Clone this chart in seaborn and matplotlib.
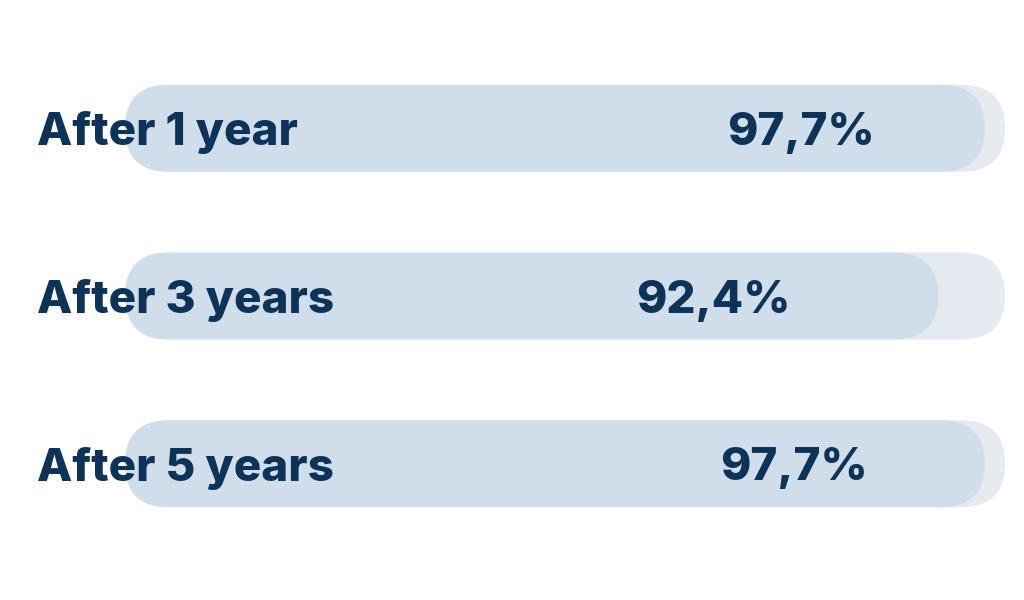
import matplotlib.pyplot as plt
import seaborn as sns
import pandas as pd
from matplotlib.patches import FancyBboxPatch

# Data
periods = ['After 1 year', 'After 3 years', 'After 5 years']
rates = [97.7, 92.4, 97.7]
rate_labels = ['97,7%', '92,4%', '97,7%']
track_max = [100, 100, 100]

df = pd.DataFrame({'period': periods, 'rate': rates, 'track': track_max})

# Colours
navy = '#0E3358'
bar_col = '#D0DEEB'
track_col = '#E5EAF1'

# Layout (pixel geometry of the reference)
W, H = 1024, 600
x0_px, x100_px = 125, 1005
px_per_x = (x100_px - x0_px) / 100
row_px = 167.75
first_row_px = 128.25
bar_h = 87 / row_px
pct_x = [76.8, 66.9, 76.0]   # centre of the percentage label, in data units

fig = plt.figure(figsize=(W / 100, H / 100), dpi=100)
ax = fig.add_axes([0, 0, 1, 1])

sns.barplot(data=df, x='track', y='period', orient='h', color=track_col,
            saturation=1, width=bar_h, ax=ax)
sns.barplot(data=df, x='rate', y='period', orient='h', color=bar_col,
            saturation=1, width=bar_h, ax=ax)

ax.set_xlim(-x0_px / px_per_x, (W - x0_px) / px_per_x)
ax.set_ylim((H - first_row_px) / row_px, -first_row_px / row_px)

# Turn the flat bars into pills
aspect = px_per_x / row_px
for p in list(ax.patches):
    x, y = p.get_x(), p.get_y()
    w, h = p.get_width(), p.get_height()
    fc = p.get_facecolor()
    p.remove()
    r = (h / 2) / aspect
    ax.add_patch(FancyBboxPatch((x, y), w, h,
                                boxstyle=f'round,pad=0,rounding_size={r}',
                                mutation_aspect=aspect, fc=fc, ec='none'))

font = ['Inter', 'DejaVu Sans']
for i, (name, lab) in enumerate(zip(periods, rate_labels)):
    ax.text(37 / W, i, name, transform=ax.get_yaxis_transform(),
            ha='left', va='center_baseline', fontsize=33, fontweight='heavy',
            color=navy, family=font)
    ax.text(pct_x[i], i, lab, ha='center', va='center_baseline',
            fontsize=33, fontweight='heavy', color=navy, family=font)

ax.axis('off')
fig.savefig('out.png', dpi=100, facecolor='white')
